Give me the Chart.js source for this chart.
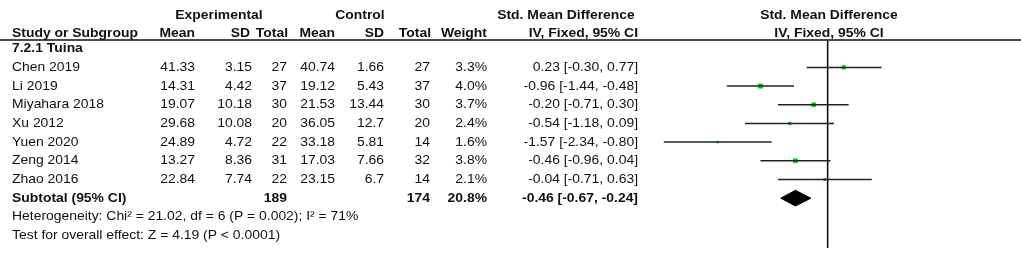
<!DOCTYPE html>
<html><head><meta charset="utf-8">
<script src="https://cdn.jsdelivr.net/npm/chart.js@4.4.1/dist/chart.umd.min.js"></script>
<style>html,body{margin:0;padding:0;background:#fff;overflow:hidden}canvas{display:block}</style>
</head><body>
<canvas id="c" width="1021" height="253"></canvas>
<script>
const groupLabel = "7.2.1 Tuina";
const studies = ["Chen 2019","Li 2019","Miyahara 2018","Xu 2012","Yuen 2020","Zeng 2014","Zhao 2016"];
const expMean = [41.33,14.31,19.07,29.68,24.89,13.27,22.84];
const expSD = [3.15,4.42,10.18,10.08,4.72,8.36,7.74];
const expTotal = [27,37,30,20,22,31,22];
const ctlMean = [40.74,19.12,21.53,36.05,33.18,17.03,23.15];
const ctlSD = [1.66,5.43,13.44,12.7,5.81,7.66,6.7];
const ctlTotal = [27,37,30,20,14,32,14];
const weights = [3.3,4.0,3.7,2.4,1.6,3.8,2.1];
const smd = [0.23,-0.96,-0.20,-0.54,-1.57,-0.46,-0.04];
const ciLow = [-0.30,-1.44,-0.71,-1.18,-2.34,-0.96,-0.71];
const ciHigh = [0.77,-0.48,0.30,0.09,-0.80,0.04,0.63];
const subExpTotal = 189, subCtlTotal = 174, subWeight = 20.8;
const subEst = -0.46, subLow = -0.67, subHigh = -0.24;
const heterogeneityText = "Heterogeneity: Chi\u00B2 = 21.02, df = 6 (P = 0.002); I\u00B2 = 71%";
const overallText = "Test for overall effect: Z = 4.19 (P < 0.0001)";

const X_MIN = -2.68, X_MAX = 2.69;
const Y_MIN = -1.466, Y_MAX = 9.667;
const subRow = studies.length;
const FONT = "Liberation Sans, Arial, sans-serif";
const FS = 13;
const HSCALE = 1.07;

const ciData = [];
studies.forEach((s,i)=>{ ciData.push({x:ciLow[i],y:i},{x:ciHigh[i],y:i},{x:ciHigh[i],y:null}); });
const ptData = studies.map((s,i)=>({x:smd[i],y:i}));
const dh = 0.42;
const diamond = [{x:subLow,y:subRow},{x:subEst,y:subRow-dh},{x:subHigh,y:subRow},{x:subEst,y:subRow+dh},{x:subLow,y:subRow}];

const f2 = v => v.toFixed(2);
const ciStr = (e,l,h) => `${f2(e)} [${f2(l)}, ${f2(h)}]`;

const tablePlugin = {
  id:'table',
  afterDraw(chart){
    const ctx = chart.ctx, ys = chart.scales.y;
    ctx.save();
    ctx.fillStyle = '#111';
    ctx.textBaseline = 'middle';
    const txt = (t,x,y,align,bold) => {
      ctx.save();
      ctx.font = (bold?'bold ':'') + FS + 'px ' + FONT;
      ctx.textAlign = align;
      ctx.translate(x,y); ctx.scale(HSCALE,1);
      ctx.fillText(t,0,0);
      ctx.restore();
    };
    ctx.strokeStyle = '#111'; ctx.lineWidth = 1.5;
    ctx.beginPath(); ctx.moveTo(0,40); ctx.lineTo(1021,40); ctx.stroke();
    const h1 = 15, h2 = 33;
    txt("Experimental",219,h1,'center',true);
    txt("Control",360,h1,'center',true);
    txt("Std. Mean Difference",566,h1,'center',true);
    txt("Std. Mean Difference",829,h1,'center',true);
    txt("Study or Subgroup",12,h2,'left',true);
    txt("Mean",195,h2,'right',true);
    txt("SD",250,h2,'right',true);
    txt("Total",288,h2,'right',true);
    txt("Mean",335,h2,'right',true);
    txt("SD",384,h2,'right',true);
    txt("Total",431,h2,'right',true);
    txt("Weight",487,h2,'right',true);
    txt("IV, Fixed, 95% CI",638,h2,'right',true);
    txt("IV, Fixed, 95% CI",829,h2,'center',true);
    txt(groupLabel,12,ys.getPixelForValue(-1),'left',true);
    studies.forEach((s,i)=>{
      const y = ys.getPixelForValue(i);
      txt(s,12,y,'left');
      txt(String(expMean[i]),195,y,'right');
      txt(String(expSD[i]),252,y,'right');
      txt(String(expTotal[i]),287,y,'right');
      txt(String(ctlMean[i]),335,y,'right');
      txt(String(ctlSD[i]),384,y,'right');
      txt(String(ctlTotal[i]),430,y,'right');
      txt(weights[i].toFixed(1)+'%',487,y,'right');
      txt(ciStr(smd[i],ciLow[i],ciHigh[i]),638,y,'right');
    });
    const ys7 = ys.getPixelForValue(subRow);
    txt("Subtotal (95% CI)",12,ys7,'left',true);
    txt(String(subExpTotal),287,ys7,'right',true);
    txt(String(subCtlTotal),430,ys7,'right',true);
    txt(subWeight.toFixed(1)+'%',487,ys7,'right',true);
    txt(ciStr(subEst,subLow,subHigh),638,ys7,'right',true);
    txt(heterogeneityText,12,ys.getPixelForValue(subRow+1),'left');
    txt(overallText,12,ys.getPixelForValue(subRow+2),'left');
    ctx.restore();
  }
};

new Chart(document.getElementById('c'),{
  type:'scatter',
  data:{datasets:[
    {data:[{x:0,y:Y_MIN},{x:0,y:Y_MAX}],showLine:true,borderColor:'#111',borderWidth:1.6,pointRadius:0},
    {data:ciData,showLine:true,spanGaps:false,borderColor:'#222',borderWidth:1.5,pointRadius:0},
    {data:diamond,showLine:true,borderColor:'#000',backgroundColor:'#000',borderWidth:1,fill:'shape',pointRadius:0},
    {data:ptData,pointStyle:'rect',backgroundColor:'#00d000',borderColor:'#00d000',borderWidth:1,
      pointRadius:ctx=>0.7*weights[ctx.dataIndex]}
  ]},
  options:{
    responsive:false,animation:false,devicePixelRatio:1,
    layout:{padding:{left:640,right:0,top:40,bottom:2}},
    plugins:{legend:{display:false},tooltip:{enabled:false}},
    scales:{
      x:{type:'linear',min:X_MIN,max:X_MAX,display:false},
      y:{type:'linear',min:Y_MIN,max:Y_MAX,reverse:true,display:false}
    }
  },
  plugins:[tablePlugin]
});
</script>
</body></html>
